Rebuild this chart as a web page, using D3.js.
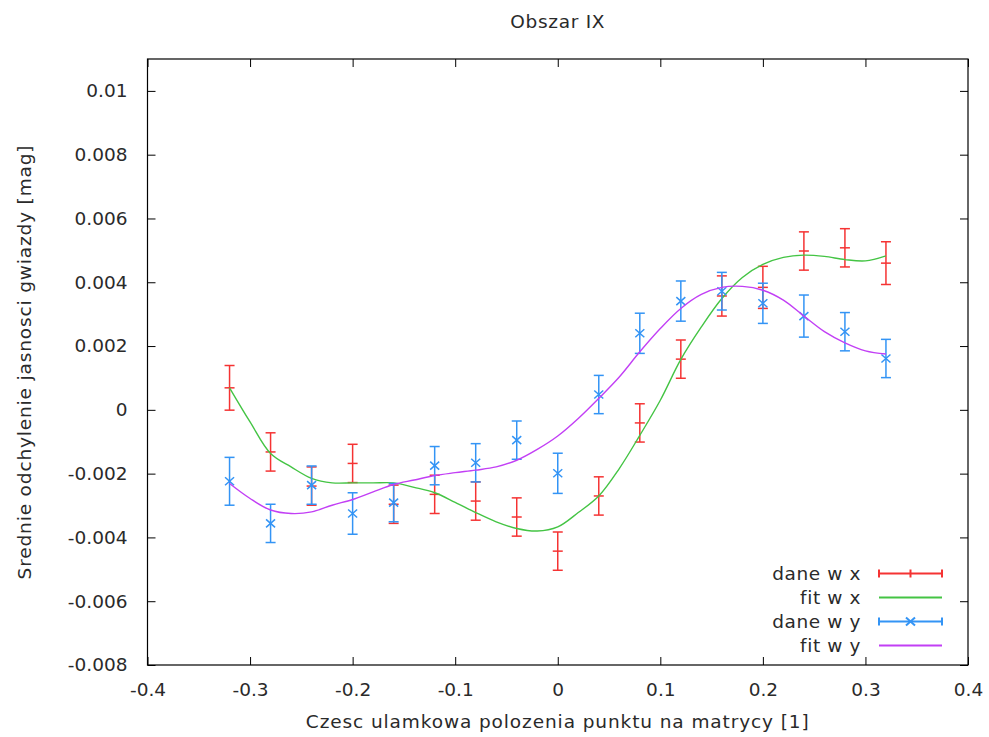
<!DOCTYPE html>
<html>
<head>
<meta charset="utf-8">
<script src="https://cdn.jsdelivr.net/npm/d3@7"></script>
<style>
  html, body { margin: 0; padding: 0; background: #fff; }
  svg { display: block; }
  text { font-family: "DejaVu Sans", sans-serif; fill: #2a2a2a; }
</style>
</head>
<body>
<svg id="chart" width="989" height="737"></svg>
<script>
// ---- data ----
const xVals = [-0.32, -0.28, -0.24, -0.20, -0.16, -0.12, -0.08, -0.04, 0.00, 0.04, 0.08, 0.12, 0.16, 0.20, 0.24, 0.28, 0.32];
const daneX = [0.00069, -0.00132, -0.00239, -0.00168, -0.00296, -0.00265, -0.00286, -0.00336, -0.00443, -0.00270, -0.00041, 0.00159, 0.00357, 0.00384, 0.00498, 0.00508, 0.00460];
const errX  = [0.00070, 0.00060, 0.00060, 0.00060, 0.00060, 0.00060, 0.00060, 0.00060, 0.00060, 0.00060, 0.00060, 0.00060, 0.00063, 0.00066, 0.00060, 0.00060, 0.00067];
const daneY = [-0.00224, -0.00356, -0.00236, -0.00325, -0.00291, -0.00175, -0.00166, -0.00095, -0.00199, 0.00048, 0.00240, 0.00341, 0.00372, 0.00334, 0.00294, 0.00245, 0.00161];
const errY  = [0.00075, 0.00060, 0.00060, 0.00065, 0.00060, 0.00060, 0.00060, 0.00060, 0.00063, 0.00060, 0.00063, 0.00063, 0.00059, 0.00063, 0.00066, 0.00060, 0.00060];

const fitGridX = [-0.32, -0.30, -0.28, -0.26, -0.24, -0.22, -0.20, -0.18, -0.16, -0.14, -0.12, -0.10, -0.08, -0.06, -0.04, -0.02, 0.00, 0.02, 0.04, 0.06, 0.08, 0.10, 0.12, 0.14, 0.16, 0.18, 0.20, 0.22, 0.24, 0.26, 0.28, 0.30, 0.32];
const fitX = [0.00069, -0.00038, -0.00137, -0.00179, -0.00215, -0.00229, -0.00229, -0.00229, -0.00229, -0.00243, -0.00260, -0.00290, -0.00322, -0.00351, -0.00372, -0.00380, -0.00367, -0.00322, -0.00270, -0.00184, -0.00080, 0.00030, 0.00158, 0.00260, 0.00349, 0.00415, 0.00456, 0.00478, 0.00485, 0.00481, 0.00471, 0.00467, 0.00483];
const fitY = [-0.00231, -0.00278, -0.00314, -0.00325, -0.00320, -0.00299, -0.00281, -0.00257, -0.00234, -0.00220, -0.00206, -0.00197, -0.00189, -0.00179, -0.00158, -0.00124, -0.00082, -0.00027, 0.00036, 0.00103, 0.00182, 0.00255, 0.00318, 0.00362, 0.00384, 0.00387, 0.00375, 0.00344, 0.00294, 0.00245, 0.00210, 0.00185, 0.00175];

const xTicks = [-0.4, -0.3, -0.2, -0.1, 0, 0.1, 0.2, 0.3, 0.4];
const xTickLabels = ["-0.4", "-0.3", "-0.2", "-0.1", "0", "0.1", "0.2", "0.3", "0.4"];
const yTicks = [-0.008, -0.006, -0.004, -0.002, 0, 0.002, 0.004, 0.006, 0.008, 0.01];
const yTickLabels = ["-0.008", "-0.006", "-0.004", "-0.002", "0", "0.002", "0.004", "0.006", "0.008", "0.01"];

const legendLabels = ["dane w x", "fit w x", "dane w y", "fit w y"];
const titleText = "Obszar IX";
const xLabel = "Czesc ulamkowa polozenia punktu na matrycy [1]";
const yLabel = "Srednie odchylenie jasnosci gwiazdy [mag]";

// ---- styles ----
const C_RED = "#f53333", C_GREEN = "#44c444", C_BLUE = "#3394f5", C_MAG = "#c23ff5";
const FS = 18.5;

const svg = d3.select("#chart");
const L = 147.5, R = 968, T = 59, B = 665;
const x = d3.scaleLinear().domain([-0.4, 0.4]).range([L, R]);
const y = d3.scaleLinear().domain([-0.008, 0.011]).range([B, T]);

// axes
const tk = 8;
function styleAxis(g) {
  g.select(".domain").remove();
  g.selectAll(".tick line").attr("stroke", "#000").attr("stroke-width", 1);
  g.selectAll(".tick text").style("font-family", "DejaVu Sans").style("font-size", FS + "px").attr("fill", "#2a2a2a");
}
const yFmt = v => yTickLabels[yTicks.findIndex(t => Math.abs(t - v) < 1e-9)];
const xFmt = v => xTickLabels[xTicks.findIndex(t => Math.abs(t - v) < 1e-9)];

svg.append("g").attr("transform", `translate(${L},0)`)
  .call(d3.axisLeft(y).tickValues(yTicks).tickFormat(yFmt).tickSize(-tk).tickPadding(20))
  .call(styleAxis);
svg.append("g").attr("transform", `translate(${R},0)`)
  .call(d3.axisRight(y).tickValues(yTicks).tickFormat("").tickSize(-tk))
  .call(styleAxis);
svg.append("g").attr("transform", `translate(0,${B})`)
  .call(d3.axisBottom(x).tickValues(xTicks).tickFormat(xFmt).tickSize(-tk).tickPadding(18))
  .call(styleAxis);
svg.append("g").attr("transform", `translate(0,${T})`)
  .call(d3.axisTop(x).tickValues(xTicks).tickFormat("").tickSize(-tk))
  .call(styleAxis);

// frame
svg.append("rect").attr("x", L).attr("y", T).attr("width", R - L).attr("height", B - T)
  .attr("fill", "none").attr("stroke", "#000").attr("stroke-width", 1.2);

// fits
const line = d3.line().x(d => x(d[0])).y(d => y(d[1])).curve(d3.curveCatmullRom.alpha(0.5));
const plot = svg.append("g");

// error bars
const capW = 5;
function errBars(vals, errs, color, marker) {
  const g = plot.append("g").attr("stroke", color).attr("stroke-width", 1.5).attr("fill", "none");
  xVals.forEach((xv, i) => {
    const px = x(xv), py = y(vals[i]), p1 = y(vals[i] + errs[i]), p2 = y(vals[i] - errs[i]);
    g.append("line").attr("x1", px).attr("x2", px).attr("y1", p1).attr("y2", p2);
    g.append("line").attr("x1", px - capW).attr("x2", px + capW).attr("y1", p1).attr("y2", p1);
    g.append("line").attr("x1", px - capW).attr("x2", px + capW).attr("y1", p2).attr("y2", p2);
    if (marker === "plus") {
      g.append("line").attr("x1", px - capW).attr("x2", px + capW).attr("y1", py).attr("y2", py);
    } else {
      g.append("line").attr("x1", px - 4.5).attr("x2", px + 4.5).attr("y1", py - 4).attr("y2", py + 4);
      g.append("line").attr("x1", px - 4.5).attr("x2", px + 4.5).attr("y1", py + 4).attr("y2", py - 4);
    }
  });
}
errBars(daneX, errX, C_RED, "plus");
plot.append("path").datum(fitGridX.map((v, i) => [v, fitX[i]]))
  .attr("d", line).attr("fill", "none").attr("stroke", C_GREEN).attr("stroke-width", 1.4);
errBars(daneY, errY, C_BLUE, "cross");
plot.append("path").datum(fitGridX.map((v, i) => [v, fitY[i]]))
  .attr("d", line).attr("fill", "none").attr("stroke", C_MAG).attr("stroke-width", 1.4);

// legend
const lg = svg.append("g");
const rowY = [573.5, 597.5, 621.5, 645.5];
const lx1 = 879, lx2 = 942, lxm = (lx1 + lx2) / 2;
legendLabels.forEach((t, i) => {
  lg.append("text").attr("x", 861).attr("y", rowY[i]).attr("dy", "0.35em")
    .attr("text-anchor", "end").style("font-size", FS + "px").style("letter-spacing", "0.6px").text(t);
});
function legErr(yy, color, marker) {
  const g = lg.append("g").attr("stroke", color).attr("stroke-width", 2);
  g.append("line").attr("x1", lx1).attr("x2", lx2).attr("y1", yy).attr("y2", yy);
  g.append("line").attr("x1", lx1).attr("x2", lx1).attr("y1", yy - 4).attr("y2", yy + 4);
  g.append("line").attr("x1", lx2).attr("x2", lx2).attr("y1", yy - 4).attr("y2", yy + 4);
  if (marker === "plus") {
    g.append("line").attr("x1", lxm).attr("x2", lxm).attr("y1", yy - 4).attr("y2", yy + 4);
  } else {
    g.append("line").attr("x1", lxm - 4.5).attr("x2", lxm + 4.5).attr("y1", yy - 4).attr("y2", yy + 4);
    g.append("line").attr("x1", lxm - 4.5).attr("x2", lxm + 4.5).attr("y1", yy + 4).attr("y2", yy - 4);
  }
}
legErr(rowY[0], C_RED, "plus");
lg.append("line").attr("x1", lx1).attr("x2", lx2).attr("y1", rowY[1]).attr("y2", rowY[1]).attr("stroke", C_GREEN).attr("stroke-width", 2);
legErr(rowY[2], C_BLUE, "cross");
lg.append("line").attr("x1", lx1).attr("x2", lx2).attr("y1", rowY[3]).attr("y2", rowY[3]).attr("stroke", C_MAG).attr("stroke-width", 2);

// titles
svg.append("text").attr("x", (L + R) / 2).attr("y", 28).attr("text-anchor", "middle")
  .style("font-size", FS + "px").style("letter-spacing", "0.7px").text(titleText);
svg.append("text").attr("x", (L + R) / 2).attr("y", 728).attr("text-anchor", "middle")
  .style("font-size", FS + "px").style("letter-spacing", "0.9px").text(xLabel);
svg.append("text").attr("transform", `translate(31,${(T + B) / 2}) rotate(-90)`).attr("text-anchor", "middle")
  .style("font-size", FS + "px").style("letter-spacing", "0.85px").text(yLabel);
</script>
</body>
</html>
